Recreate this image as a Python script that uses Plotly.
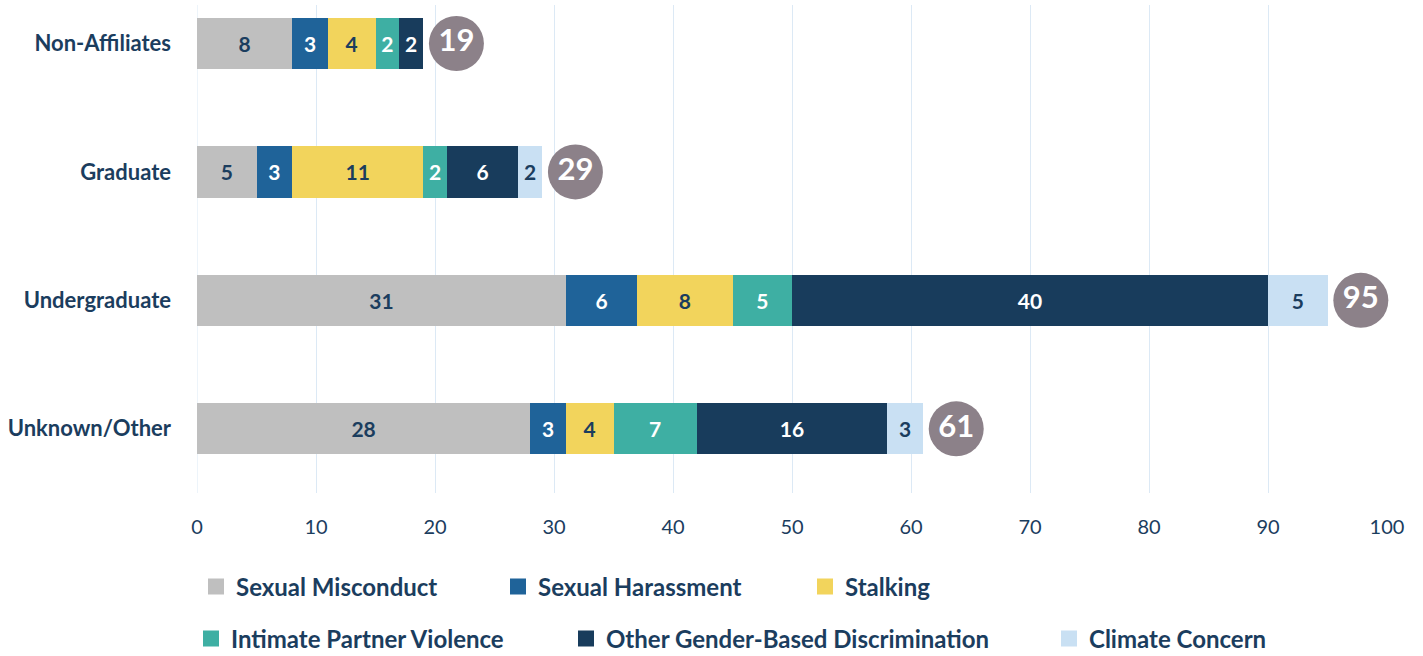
import plotly.graph_objects as go

categories = ["Non-Affiliates", "Graduate", "Undergraduate", "Unknown/Other"]
series_names = ["Sexual Misconduct", "Sexual Harassment", "Stalking",
                "Intimate Partner Violence", "Other Gender-Based Discrimination", "Climate Concern"]
sexual_misconduct = [8, 5, 31, 28]
sexual_harassment = [3, 3, 6, 3]
stalking = [4, 11, 8, 4]
intimate_partner_violence = [2, 2, 5, 7]
other_gbd = [2, 6, 40, 16]
climate_concern = [None, 2, 5, 3]
totals = [19, 29, 95, 61]
x_ticks = [0, 10, 20, 30, 40, 50, 60, 70, 80, 90, 100]

series_values = [sexual_misconduct, sexual_harassment, stalking,
                 intimate_partner_violence, other_gbd, climate_concern]
colors = ["#BFBFBF", "#1F6399", "#F2D45C", "#3EAFA3", "#183C5C", "#C9E0F3"]
navy = "#1B3D5E"
label_colors = [navy, "white", navy, "white", "white", navy]
FONT = "Lato"

# plot area in pixels
L, R, T, B = 197, 36, 5, 163
W, H = 1423, 656
pw = W - L - R
ph = H - T - B

fig = go.Figure()
for name, vals, col, tcol in zip(series_names, series_values, colors, label_colors):
    fig.add_trace(go.Bar(
        y=categories, x=vals, orientation="h", name=name,
        marker=dict(color=col, line=dict(width=0)),
        width=0.4,
        text=[str(v) if v is not None else "" for v in vals],
        textposition="inside", insidetextanchor="middle", textangle=0,
        textfont=dict(family=FONT, size=21, color=tcol, weight="bold"),
        showlegend=False, hoverinfo="skip",
    ))

# total circles
circle_gap = 2.8
fig.add_trace(go.Scatter(
    y=categories, x=[t + circle_gap for t in totals], mode="markers+text",
    marker=dict(size=55, color="#8C8189", line=dict(width=0)),
    text=[str(t) for t in totals], textposition="middle center",
    textfont=dict(family=FONT, size=31, color="white", weight="bold"),
    showlegend=False, hoverinfo="skip", cliponaxis=False,
))

# legend entries (one legend each, positioned like the reference)
legend_pos = [(216, 587), (518, 587), (825, 587), (211, 639), (586, 639), (1069, 639)]
for i, (name, col) in enumerate(zip(series_names, colors)):
    lname = "legend" if i == 0 else f"legend{i+1}"
    fig.add_trace(go.Scatter(
        x=[None], y=[None], mode="markers", name=name,
        marker=dict(symbol="square", size=17, color=col),
        legend=lname, showlegend=True, hoverinfo="skip",
    ))
    cx, cy = legend_pos[i]
    fig.update_layout({lname: dict(
        x=(cx - 20 - L) / pw, y=(H - B - cy) / ph,
        xanchor="left", yanchor="middle", orientation="h",
        bgcolor="rgba(0,0,0,0)", borderwidth=0,
        font=dict(family=FONT, size=24, color=navy, weight="bold"),
        itemclick=False, itemdoubleclick=False,
    )})

fig.update_layout(
    width=W, height=H,
    margin=dict(l=L, r=R, t=T, b=B, pad=0, autoexpand=False),
    paper_bgcolor="white", plot_bgcolor="white",
    barmode="stack", bargap=0.6,
    hovermode=False,
    xaxis=dict(range=[0, 100], tickvals=x_ticks, showgrid=True,
               gridcolor="#DCE9F5", gridwidth=1, zeroline=False,
               showline=False, ticks="", ticklabelstandoff=20,
               tickfont=dict(family=FONT, size=20, color=navy)),
    yaxis=dict(categoryorder="array", categoryarray=categories,
               range=[3.5, -0.3], showgrid=False, zeroline=False,
               showline=False, ticks="", ticklabelstandoff=25,
               tickfont=dict(family=FONT, size=22, color=navy, weight="bold")),
)
fig.add_vline(x=0, line=dict(color="#DCE9F5", width=1), layer="below")

fig.write_html("out.html",
               config={"displayModeBar": False, "staticPlot": True},
               post_script="document.body.style.margin='0';document.body.style.overflow='hidden';")
